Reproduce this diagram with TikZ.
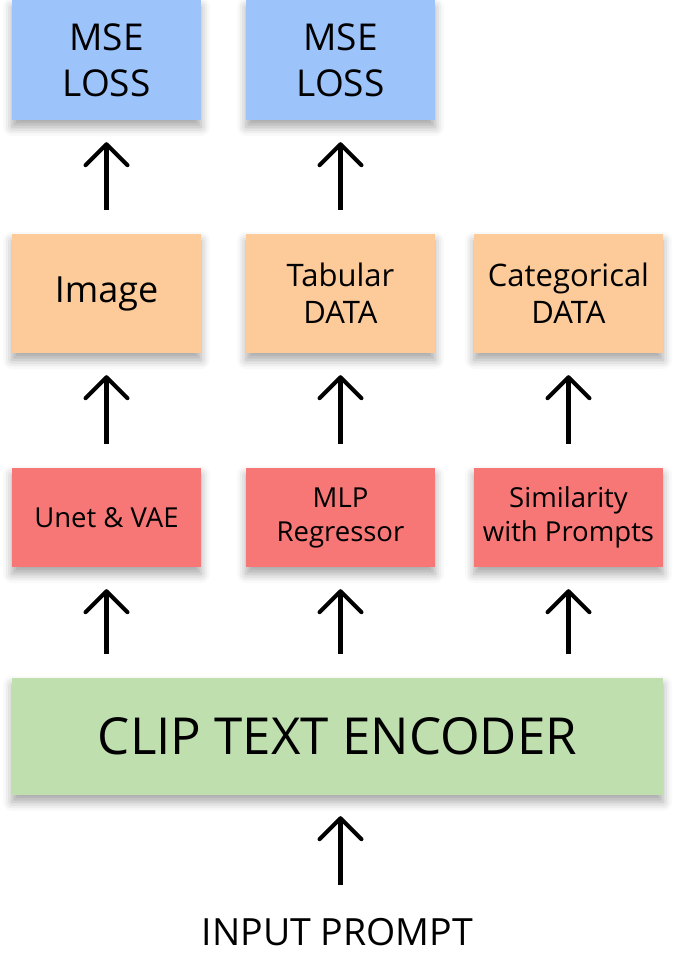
\documentclass[tikz,border=0pt]{standalone}
\usepackage{fontspec}
\setmainfont{Open Sans}
\usetikzlibrary{arrows.meta,shadows.blur}
\definecolor{lossblue}{HTML}{9DC3FB}
\definecolor{dataorange}{HTML}{FDCA9A}
\definecolor{modelred}{HTML}{F77676}
\definecolor{clipgreen}{HTML}{BFE0AE}
\tikzset{
  box/.style={draw=none, minimum width=189pt, inner sep=0pt, align=center,
    blur shadow={shadow xshift=0pt, shadow yshift=-7pt, shadow blur radius=9pt, shadow opacity=35}},
  lossbox/.style={box, fill=lossblue, minimum height=120pt, font=\fontsize{37}{46}\selectfont},
  databox/.style={box, fill=dataorange, minimum height=119pt, font=\fontsize{31}{37}\selectfont},
  modelbox/.style={box, fill=modelred, minimum height=99pt, font=\fontsize{27.5}{34}\selectfont},
  clipbox/.style={box, fill=clipgreen, minimum width=651pt, minimum height=117pt, font=\fontsize{51}{56}\selectfont},
  up/.style={-{Straight Barb[length=21pt,width=42pt,line width=4pt,round]}, line width=4.5pt, shorten <=24pt, shorten >=22pt},
}
\begin{document}
\begin{tikzpicture}[x=1pt,y=1pt]
\useasboundingbox (0,0) rectangle (675,-970);
\node[lossbox] (l1) at (106.5,-60) {MSE\\LOSS};
\node[lossbox] (l2) at (340.5,-60) {MSE\\LOSS};
\node[databox,font=\fontsize{36}{42}\selectfont] (d1) at (106.5,-293.5) {Image};
\node[databox] (d2) at (340.5,-293.5) {Tabular\\DATA};
\node[databox] (d3) at (568.5,-293.5) {Categorical\\DATA};
\node[modelbox] (m1) at (106.5,-517.5) {Unet \& VAE};
\node[modelbox] (m2) at (340.5,-517.5) {MLP\\Regressor};
\node[modelbox] (m3) at (568.5,-517.5) {Similarity\\with Prompts};
\node[clipbox] (c) at (337.5,-736.5) {CLIP TEXT ENCODER};
\node[font=\fontsize{37.5}{42}\selectfont, inner sep=0pt] (in) at (337.5,-932) {INPUT PROMPT};
\draw[up] (d1) -- (l1);
\draw[up] (d2) -- (l2);
\draw[up] (m1) -- (d1);
\draw[up] (m2) -- (d2);
\draw[up] (m3) -- (d3);
\draw[up] (c.north -| m1) -- (m1);
\draw[up] (c.north -| m2) -- (m2);
\draw[up] (c.north -| m3) -- (m3);
\draw[up, shorten <=33pt, shorten >=21pt] (in.north -| m2) -- (c.south -| m2);
\end{tikzpicture}
\end{document}
